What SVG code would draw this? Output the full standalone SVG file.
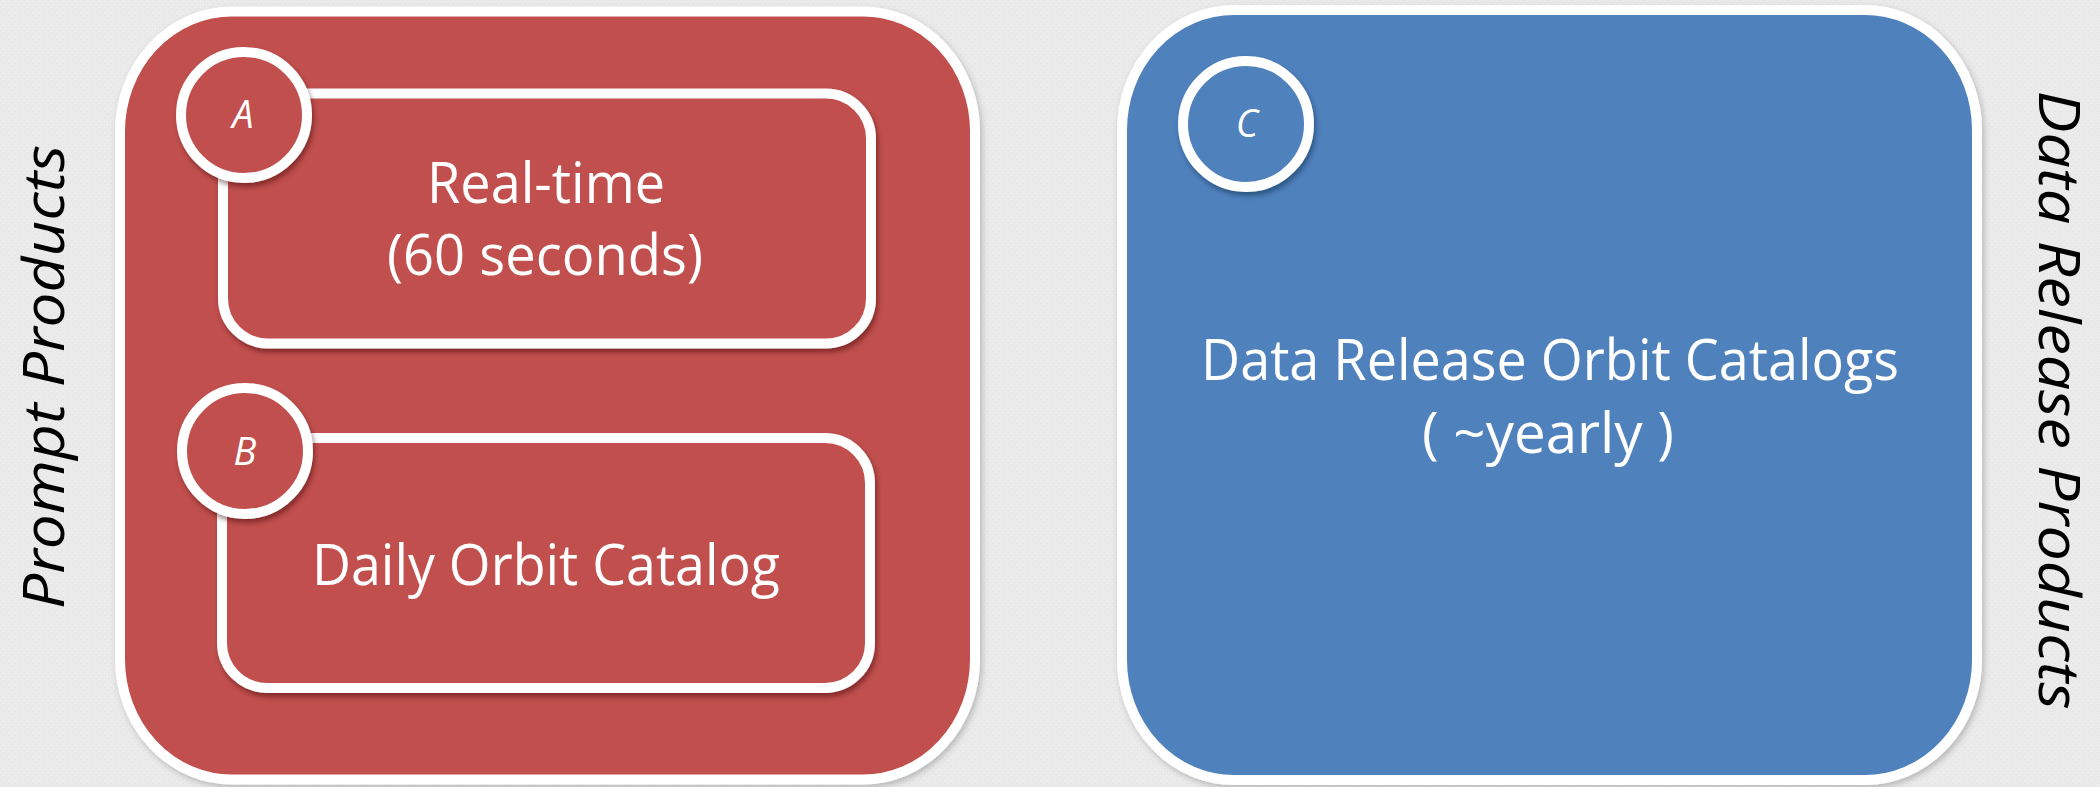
<svg xmlns="http://www.w3.org/2000/svg" width="2100" height="787" viewBox="0 0 2100 787">
  <defs>
    <pattern id="bgtex" width="6" height="6" patternUnits="userSpaceOnUse">
      <rect width="6" height="6" fill="#EAEAEA"/>
      <rect x="0" y="0" width="1" height="1" fill="#E2E2E2"/>
      <rect x="3" y="3" width="1" height="1" fill="#E2E2E2"/>
      <rect x="2" y="1" width="1" height="1" fill="#F0F0F0"/>
      <rect x="5" y="4" width="1" height="1" fill="#F0F0F0"/>
    </pattern>
    <filter id="outerShadow" x="-5%" y="-5%" width="110%" height="110%">
      <feDropShadow dx="2" dy="3" stdDeviation="3" flood-color="#000" flood-opacity="0.22"/>
    </filter>
    <filter id="innerShadow" x="-10%" y="-10%" width="120%" height="130%">
      <feDropShadow dx="2" dy="4" stdDeviation="2.5" flood-color="#3a1010" flood-opacity="0.45"/>
    </filter>
    <filter id="innerShadowBlue" x="-20%" y="-20%" width="140%" height="140%">
      <feDropShadow dx="2" dy="4" stdDeviation="2.5" flood-color="#10203a" flood-opacity="0.45"/>
    </filter>
  </defs>
  <style>
    .panel { stroke: #FFFFFF; stroke-width: 10; }
    .red { fill: #C0504D; }
    .blue { fill: #4F81BD; }
    .inner { stroke: #FFFFFF; stroke-width: 10; }
    .main { font-family: "Open Sans", "Liberation Sans", sans-serif; font-size: 56px; fill: #FFFFFF; text-anchor: middle; }
    .letter { font-family: "Open Sans", "Liberation Sans", sans-serif; font-style: italic; font-size: 38px; fill: #FFFFFF; text-anchor: middle; }
    .side { font-family: "Open Sans", "Liberation Sans", sans-serif; font-style: italic; font-size: 56px; fill: #000000; text-anchor: middle; }
  </style>

  <rect width="2100" height="787" fill="url(#bgtex)"/>

  <g id="connectors"/>

  <g id="panel-prompt">
    <rect class="panel red" x="120" y="11.5" width="855" height="768" rx="112" ry="120" filter="url(#outerShadow)"/>
  </g>

  <g id="node-A">
    <rect class="inner red" x="223" y="93.5" width="648" height="250" rx="45" ry="45" filter="url(#innerShadow)"/>
    <circle class="inner red" cx="244" cy="115" r="63" filter="url(#innerShadow)"/>
    <text class="letter" x="243" y="128">A</text>
    <text class="main" x="546" y="203" textLength="238" lengthAdjust="spacingAndGlyphs">Real-time</text>
    <text class="main" x="545" y="275" textLength="316" lengthAdjust="spacingAndGlyphs">(60 seconds)</text>
  </g>

  <g id="node-B">
    <rect class="inner red" x="222" y="438" width="648" height="250" rx="45" ry="45" filter="url(#innerShadow)"/>
    <circle class="inner red" cx="245" cy="451" r="63" filter="url(#innerShadow)"/>
    <text class="letter" x="245" y="465">B</text>
    <text class="main" x="546" y="585" textLength="468" lengthAdjust="spacingAndGlyphs">Daily Orbit Catalog</text>
  </g>

  <g id="node-C">
    <rect class="panel blue" x="1122" y="10" width="855" height="770" rx="112" ry="120" filter="url(#outerShadow)"/>
    <circle class="inner blue" cx="1246" cy="124" r="63" filter="url(#innerShadowBlue)"/>
    <text class="letter" x="1247" y="137">C</text>
    <text class="main" x="1550" y="380" textLength="698" lengthAdjust="spacingAndGlyphs">Data Release Orbit Catalogs</text>
    <text class="main" x="1548" y="453" textLength="252" lengthAdjust="spacingAndGlyphs">( ~yearly )</text>
  </g>

  <g id="side-labels">
    <text class="side" transform="translate(64,377) rotate(-90)" x="0" y="0" textLength="464" lengthAdjust="spacingAndGlyphs">Prompt Products</text>
    <text class="side" transform="translate(2039,400) rotate(90)" x="0" y="0" textLength="619" lengthAdjust="spacingAndGlyphs">Data Release Products</text>
  </g>
</svg>
